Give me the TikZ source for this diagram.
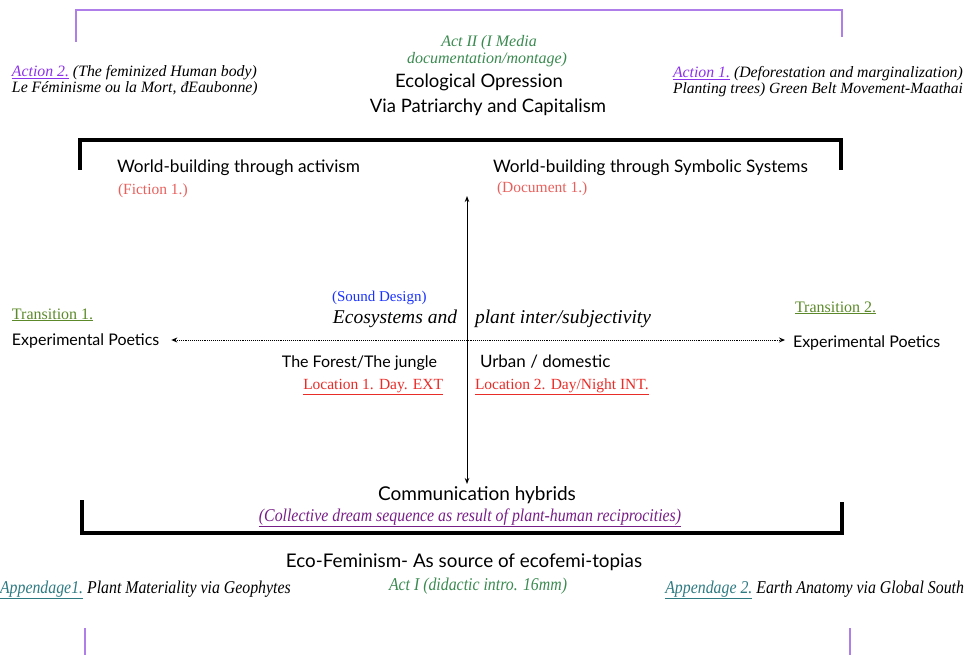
\documentclass[tikz,border=0pt]{standalone}
\usepackage{fontspec}
\setmainfont{Liberation Serif}
\newfontfamily\sansf{Lato}
\newfontfamily\condf[FakeStretch=0.88]{Liberation Serif}
\usetikzlibrary{arrows.meta}
\definecolor{actpurple}{RGB}{140,50,235}
\definecolor{brpurple}{RGB}{176,126,232}
\definecolor{actgreen}{RGB}{58,138,80}
\definecolor{trgreen}{RGB}{92,138,42}
\definecolor{salmon}{RGB}{232,96,92}
\definecolor{locred}{RGB}{232,44,40}
\definecolor{sndblue}{RGB}{26,50,255}
\definecolor{colpurple}{RGB}{120,30,135}
\definecolor{apteal}{RGB}{46,122,130}
\tikzset{
  lbl/.style={inner sep=0pt, outer sep=0pt},
  sanslbl/.style={lbl, font=\sansf\fontsize{16}{19}\selectfont},
  wblbl/.style={lbl, font=\sansf\fontsize{17.2}{20}\selectfont},
  serlbl/.style={lbl, font=\itshape\fontsize{15.8}{18}\selectfont},
  redlbl/.style={lbl, font=\fontsize{15.5}{18}\selectfont},
  condlbl/.style={lbl, font=\condf\itshape\fontsize{18}{20}\selectfont},
  blackbr/.style={line width=4pt, line cap=butt},
  purplebr/.style={draw=brpurple, line width=1.8pt},
  dotarrow/.style={densely dotted, line width=0.9pt, {Stealth[length=6pt,width=5pt]}-{Stealth[length=6pt,width=5pt]}},
  solidarrow/.style={line width=1pt, {Stealth[length=6pt,width=4.5pt]}-{Stealth[length=6pt,width=4.5pt]}},
}
\begin{document}
\begin{tikzpicture}[x=1pt,y=-1pt]
\useasboundingbox (0,0) rectangle (968,655);
% purple brackets
\draw[purplebr] (76,42) -- (76,10) -- (842,10) -- (842,37);
\draw[purplebr] (85,628) -- (85,656);
\draw[purplebr] (850,628) -- (850,656);
% black brackets
\draw[blackbr] (80,170) -- (80,140) -- (841,140) -- (841,170);
\draw[blackbr] (82,500) -- (82,533) -- (842,533) -- (842,502);

% top texts
\node[lbl, font=\itshape\fontsize{16}{18}\selectfont, text=actgreen, anchor=base] (act2a) at (489,47) {Act II (I Media};
\node[lbl, font=\itshape\fontsize{16}{18}\selectfont, text=actgreen, anchor=base] (act2b) at (487,64) {documentation/montage)};
\node[lbl, font=\sansf\fontsize{18.5}{21}\selectfont, anchor=base] (eco1) at (479,88) {Ecological Opression};
\node[lbl, font=\sansf\fontsize{18.5}{21}\selectfont, anchor=base] (eco2) at (488,113) {Via Patriarchy and Capitalism};

\node[serlbl, anchor=base west] (a2a) at (12,77) {\textcolor{actpurple}{\underline{Action 2.}} (The feminized Human body)};
\node[serlbl, anchor=base west] (a2b) at (12,93) {Le Féminisme ou la Mort, đEaubonne)};
\node[serlbl, anchor=base west] (a1a) at (673,78) {\textcolor{actpurple}{\underline{Action 1.}} (Deforestation and marginalization)};
\node[serlbl, anchor=base west] (a1b) at (673,94) {\resizebox{290pt}{!}{Planting trees) Green Belt Movement-Maathai}};

% world building
\node[wblbl, anchor=base west] (wb1) at (117,172) {World-building through activism};
\node[redlbl, text=salmon, anchor=base west] (fic) at (118,194) {(Fiction 1.)};
\node[wblbl, anchor=base west] (wb2) at (493,172) {World-building through Symbolic Systems};
\node[redlbl, text=salmon, anchor=base west] (doc) at (497,193) {(Document 1.)};

% middle
\node[lbl, font=\fontsize{15}{17}\selectfont, text=sndblue, anchor=base west] (snd) at (332,301) {(Sound Design)};
\node[lbl, font=\itshape\fontsize{19.5}{22}\selectfont, anchor=base east] (ecos) at (457,323) {Ecosystems and};
\node[lbl, font=\itshape\fontsize{19.5}{22}\selectfont, anchor=base west] (plant) at (475,323) {plant inter/subjectivity};

\node[lbl, font=\fontsize{16}{18}\selectfont, text=trgreen, anchor=base west] (tr1) at (12,319) {\underline{Transition 1.}};
\node[lbl, font=\fontsize{16}{18}\selectfont, text=trgreen, anchor=base west] (tr2) at (795,312) {\underline{Transition 2.}};
\node[sanslbl, anchor=base west] (ep1) at (12,345) {Experimental Poetics};
\node[sanslbl, anchor=base west] (ep2) at (793,347) {Experimental Poetics};

\node[sanslbl, anchor=base east] (forest) at (437,367) {The Forest/The jungle};
\node[redlbl, text=locred, anchor=base east] (loc1) at (443,389) {\underline{Location 1. Day. EXT}};
\node[lbl, font=\sansf\fontsize{17}{19}\selectfont, anchor=base west] (urban) at (480,367) {Urban / domestic};
\node[redlbl, text=locred, anchor=base west] (loc2) at (475,389) {\underline{Location 2. Day/Night INT.}};

% bottom
\node[lbl, font=\sansf\fontsize{19}{22}\selectfont, anchor=base] (comm) at (477,500) {Communication hybrids};
\node[condlbl, text=colpurple, anchor=base] (coll) at (470,521) {\underline{(Collective dream sequence as result of plant-human reciprocities)}};
\node[lbl, font=\sansf\fontsize{18.8}{22}\selectfont, anchor=base] (ecofem) at (464,567) {Eco-Feminism- As source of ecofemi-topias};
\node[condlbl, anchor=base west] (ap1) at (0,593) {\textcolor{apteal}{\underline{Appendage1.}} Plant Materiality via Geophytes};
\node[condlbl, text=actgreen, anchor=base] (act1) at (478,590) {Act I (didactic intro. 16mm)};
\node[condlbl, anchor=base east] (ap2) at (964,593) {\textcolor{apteal}{\underline{Appendage 2.}} Earth Anatomy via Global South};

% connectors
\coordinate (vtop) at (467,196);
\coordinate (vbot) at (467,484);
\draw[solidarrow] (vtop) -- (vbot);
\draw[dotarrow] ([xshift=12pt]ep1.east |- 0,340) -- ([xshift=-8pt]ep2.west |- 0,340);
\end{tikzpicture}
\end{document}
